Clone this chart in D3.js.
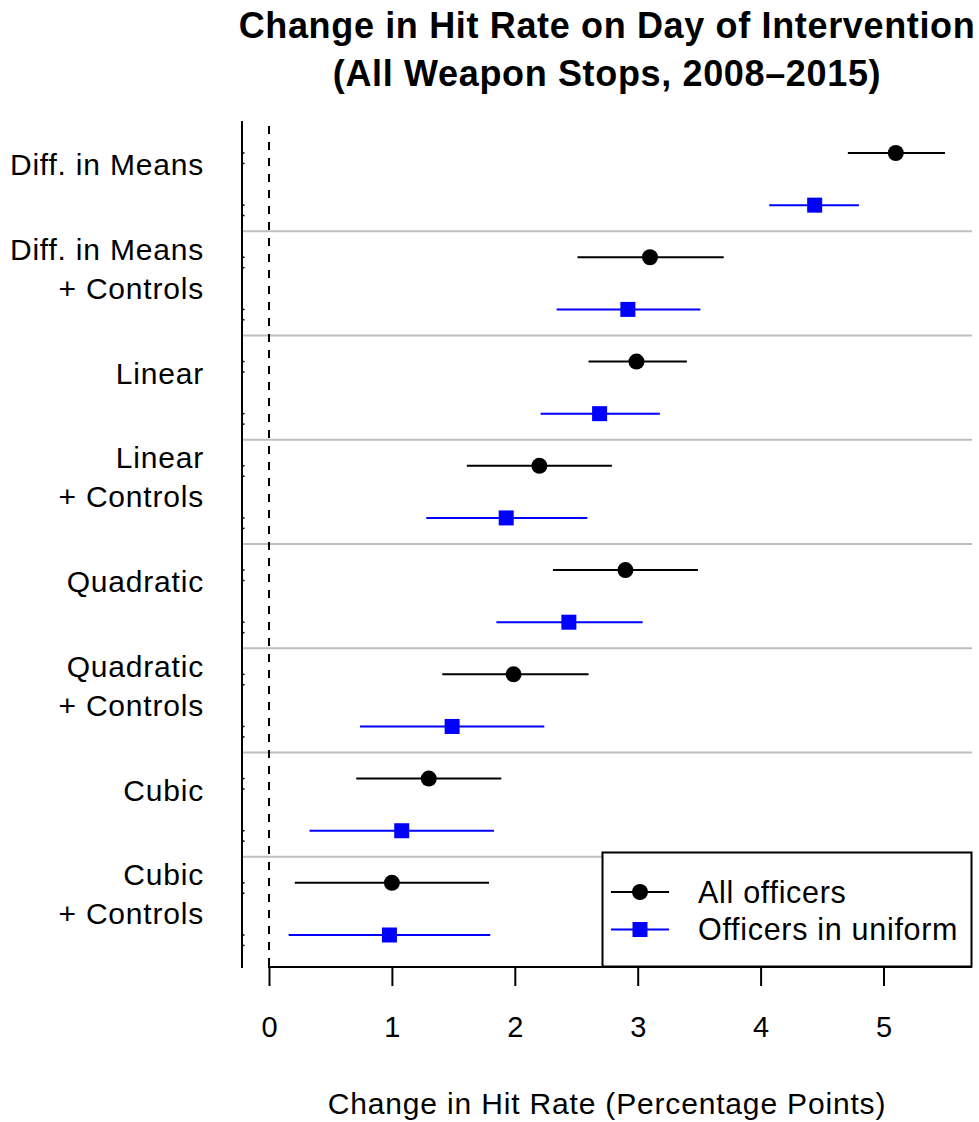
<!DOCTYPE html>
<html>
<head>
<meta charset="utf-8">
<script src="https://cdn.jsdelivr.net/npm/d3@7"></script>
<style>
  html, body { margin: 0; padding: 0; background: #fff; }
  svg { display: block; font-family: "Liberation Sans", Arial, Helvetica, sans-serif; }
</style>
</head>
<body>
<svg id="chart" width="979" height="1122"></svg>
<script>
// Specification labels (one group per model), each may span two lines
const models = [
  ["Diff. in Means"],
  ["Diff. in Means", "+ Controls"],
  ["Linear"],
  ["Linear", "+ Controls"],
  ["Quadratic"],
  ["Quadratic", "+ Controls"],
  ["Cubic"],
  ["Cubic", "+ Controls"]
];

// Point estimates and 95% intervals, all officers
const allEst = [5.10, 3.10, 2.99, 2.20, 2.90, 1.99, 1.30, 1.00];
const allLo  = [4.71, 2.51, 2.60, 1.61, 2.31, 1.41, 0.71, 0.21];
const allHi  = [5.50, 3.70, 3.40, 2.79, 3.49, 2.60, 1.89, 1.79];

// Point estimates and 95% intervals, officers in uniform
const uniEst = [4.44, 2.92, 2.69, 1.93, 2.44, 1.49, 1.08, 0.98];
const uniLo  = [4.07, 2.34, 2.21, 1.28, 1.85, 0.74, 0.33, 0.16];
const uniHi  = [4.80, 3.51, 3.18, 2.59, 3.04, 2.24, 1.83, 1.80];

const xTicks = [0, 1, 2, 3, 4, 5];
const seriesNames = ["All officers", "Officers in uniform"];

const svg = d3.select("#chart");

const plotLeft = 242, plotRight = 972, plotTop = 121, plotBottom = 967;

const x = d3.scaleLinear().domain([0, 5]).range([269, 883.5]);
// one row per estimate: black at even rows, blue at odd rows
const y = d3.scaleLinear().domain([0, 15]).range([153, 935]);

const series = [
  { name: seriesNames[0], est: allEst, lo: allLo, hi: allHi, color: "#000000", shape: "circle", offset: 0 },
  { name: seriesNames[1], est: uniEst, lo: uniLo, hi: uniHi, color: "#0000ff", shape: "square", offset: 1 }
];

// group separators
const seps = d3.range(models.length - 1).map(g => 2 * g + 1.5);
svg.append("g").selectAll("line").data(seps).join("line")
  .attr("x1", plotLeft).attr("x2", plotRight)
  .attr("y1", d => y(d)).attr("y2", d => y(d))
  .attr("stroke", "#bebebe").attr("stroke-width", 2);

// zero reference line
svg.append("line")
  .attr("x1", x(0)).attr("x2", x(0))
  .attr("y1", 126).attr("y2", plotBottom)
  .attr("stroke", "#000").attr("stroke-width", 2)
  .attr("stroke-dasharray", "8,8");

// left axis line with small inward ticks
svg.append("line")
  .attr("x1", plotLeft).attr("x2", plotLeft)
  .attr("y1", plotTop).attr("y2", plotBottom + 1)
  .attr("stroke", "#000").attr("stroke-width", 2);
const rowTicks = [];
d3.range(16).forEach(r => { rowTicks.push(r); rowTicks.push(r + 0.2); });
svg.append("g").selectAll("line").data(rowTicks).join("line")
  .attr("x1", plotLeft).attr("x2", plotLeft + 2.5)
  .attr("y1", d => y(d)).attr("y2", d => y(d))
  .attr("stroke", "#000").attr("stroke-width", 1.5);

// y labels
const labG = svg.append("g");
models.forEach((lines, g) => {
  const cy = y(2 * g) + 11.5;
  const lh = 39;
  const start = cy - (lines.length - 1) * lh / 2;
  lines.forEach((t, i) => {
    labG.append("text")
      .attr("x", 204).attr("y", start + i * lh)
      .attr("dy", "0.35em")
      .attr("text-anchor", "end")
      .attr("font-size", 30)
      .attr("letter-spacing", 0.8)
      .attr("fill", "#000")
      .text(t);
  });
});

// x axis
const xAxis = d3.axisBottom(x).tickValues(xTicks).tickSize(19).tickFormat(d3.format("d"));
const xg = svg.append("g").attr("transform", `translate(0,${plotBottom})`).call(xAxis);
xg.select(".domain").remove();
xg.selectAll(".tick line").attr("stroke", "#000").attr("stroke-width", 2);
xg.selectAll(".tick text")
  .attr("y", 60).attr("dy", "0.35em")
  .attr("font-size", 29)
  .attr("font-family", "Liberation Sans, Arial, sans-serif")
  .attr("fill", "#000");
svg.append("line")
  .attr("x1", x(0) - 1).attr("x2", plotRight)
  .attr("y1", plotBottom).attr("y2", plotBottom)
  .attr("stroke", "#000").attr("stroke-width", 2);

// interval lines and markers
series.forEach(s => {
  const g = svg.append("g");
  g.selectAll("line").data(s.est).join("line")
    .attr("x1", (d, i) => x(s.lo[i])).attr("x2", (d, i) => x(s.hi[i]))
    .attr("y1", (d, i) => y(2 * i + s.offset)).attr("y2", (d, i) => y(2 * i + s.offset))
    .attr("stroke", s.color).attr("stroke-width", 2);
  if (s.shape === "circle") {
    g.selectAll("circle").data(s.est).join("circle")
      .attr("cx", d => x(d)).attr("cy", (d, i) => y(2 * i + s.offset))
      .attr("r", 8).attr("fill", s.color);
  } else {
    g.selectAll("rect").data(s.est).join("rect")
      .attr("x", d => x(d) - 7.5).attr("y", (d, i) => y(2 * i + s.offset) - 7.5)
      .attr("width", 15).attr("height", 15).attr("fill", s.color);
  }
});

// legend
const leg = svg.append("g");
leg.append("rect")
  .attr("x", 602.5).attr("y", 852.5).attr("width", 369).attr("height", 114)
  .attr("fill", "#fff").attr("stroke", "#000").attr("stroke-width", 2);
const legRows = [892, 929.5];
series.forEach((s, i) => {
  const ly = legRows[i];
  leg.append("line").attr("x1", 611).attr("x2", 669).attr("y1", ly).attr("y2", ly)
    .attr("stroke", s.color).attr("stroke-width", 2);
  if (s.shape === "circle") {
    leg.append("circle").attr("cx", 640).attr("cy", ly).attr("r", 8).attr("fill", s.color);
  } else {
    leg.append("rect").attr("x", 632.5).attr("y", ly - 7.5).attr("width", 15).attr("height", 15).attr("fill", s.color);
  }
  leg.append("text").attr("x", 698).attr("y", ly).attr("dy", "0.35em")
    .attr("font-size", 30.5).attr("letter-spacing", 0.7)
    .attr("fill", "#000").text(s.name);
});

// title
const title = ["Change in Hit Rate on Day of Intervention", "(All Weapon Stops, 2008\u20132015)"];
title.forEach((t, i) => {
  svg.append("text")
    .attr("x", 607).attr("y", 38 + i * 48)
    .attr("text-anchor", "middle")
    .attr("font-size", 36)
    .attr("font-weight", "bold")
    .attr("letter-spacing", 0.65)
    .attr("fill", "#000")
    .text(t);
});

// x axis title
svg.append("text")
  .attr("x", 607).attr("y", 1103).attr("dy", "0.35em")
  .attr("text-anchor", "middle")
  .attr("font-size", 30)
  .attr("letter-spacing", 0.83)
  .attr("fill", "#000")
  .text("Change in Hit Rate (Percentage Points)");
</script>
</body>
</html>
